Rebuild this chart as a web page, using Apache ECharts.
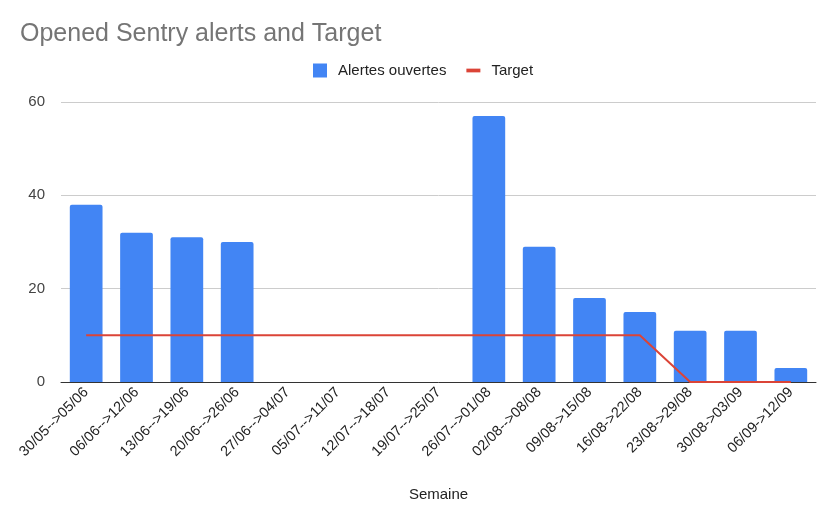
<!DOCTYPE html>
<html>
<head>
<meta charset="utf-8">
<script src="https://cdn.jsdelivr.net/npm/echarts@6/dist/echarts.min.js"></script>
<style>html,body{margin:0;padding:0;background:#fff}#c{width:840px;height:515px}</style>
</head>
<body>
<div id="c"></div>
<script>
const categories = ["30/05-->05/06","06/06-->12/06","13/06-->19/06","20/06-->26/06","27/06-->04/07","05/07-->11/07","12/07-->18/07","19/07-->25/07","26/07-->01/08","02/08-->08/08","09/08->15/08","16/08->22/08","23/08->29/08","30/08->03/09","06/09->12/09"];
const alertes = [38,32,31,30,0,0,0,0,57,29,18,15,11,11,3];
const target = [10,10,10,10,10,10,10,10,10,10,10,10,0,0,0];
const yTicks = [0,20,40,60];

const chart = echarts.init(document.getElementById('c'), null, {renderer:'canvas'});
chart.setOption({
  animation:false,
  backgroundColor:'#fff',
  textStyle:{fontFamily:'Arial, Liberation Sans, sans-serif'},
  title:{text:'Opened Sentry alerts and Target',left:15,top:17,textStyle:{fontSize:25,fontWeight:'normal',color:'#757575',fontFamily:'Arial, Liberation Sans, sans-serif'}},
  legend:{top:58,left:308,itemGap:20,itemWidth:14,itemHeight:14,textStyle:{fontSize:15,color:'#222',padding:[0,0,0,6]},
    data:[{name:'Alertes ouvertes',icon:'rect'},{name:'Target',icon:'path://M0,0 L15,0 L15,4 L0,4 Z'}]},
  grid:{left:61,right:24,top:102,bottom:133},
  xAxis:{type:'category',data:categories,name:'Semaine',nameLocation:'middle',nameGap:105,
    nameTextStyle:{fontSize:15,color:'#222'},
    axisTick:{show:false},axisLine:{lineStyle:{color:'#333',width:1}},
    axisLabel:{rotate:45,interval:0,fontSize:14.5,color:'#222',margin:8}},
  yAxis:{type:'value',min:yTicks[0],max:yTicks[yTicks.length-1],interval:20,
    axisLabel:{fontSize:15,color:'#444',margin:16},
    splitLine:{lineStyle:{color:'#ccc'}},axisLine:{show:false},axisTick:{show:false}},
  series:[
    {name:'Alertes ouvertes',type:'bar',data:alertes,barCategoryGap:'35%',itemStyle:{color:'#4285f4',borderRadius:[2,2,0,0]}},
    {name:'Target',type:'line',data:target,symbol:'none',lineStyle:{color:'#db4437',width:2},itemStyle:{color:'#db4437'}}
  ]
});
</script>
</body>
</html>
